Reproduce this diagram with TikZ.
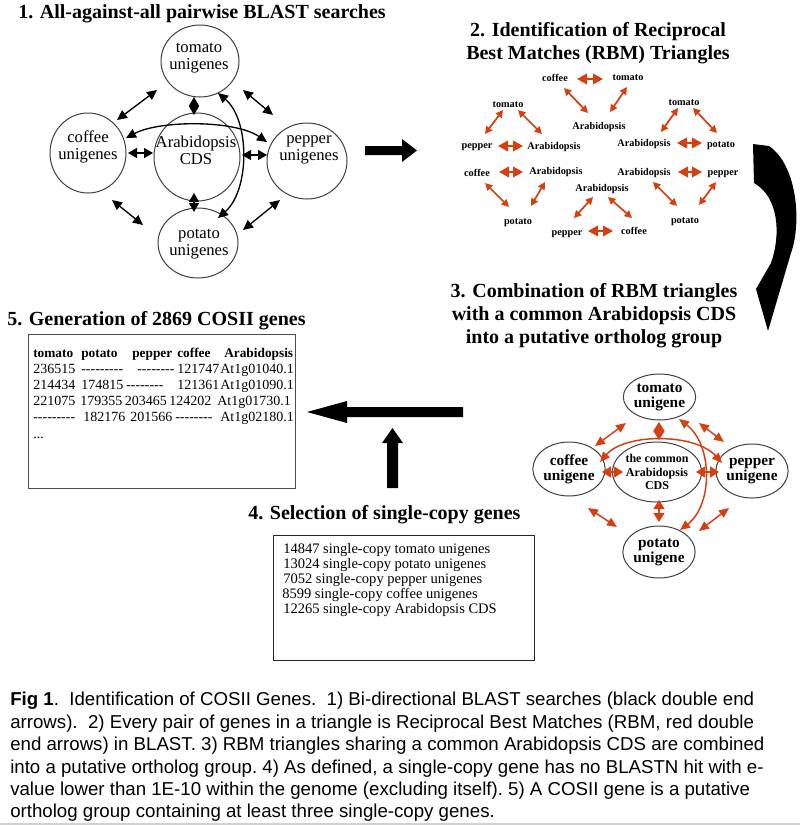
\documentclass[tikz,border=0pt]{standalone}
\usepackage{fontspec}
\setmainfont{Liberation Serif}
\newfontfamily\capfont{Liberation Sans}
\usetikzlibrary{shapes.geometric,arrows.meta,calc}
\definecolor{rbm}{RGB}{214,64,16}
\newcommand\dsh[1]{\foreach\i in {1,...,#1}{-\kern0pt}}
\begin{document}
\begin{tikzpicture}[x=0.75pt,y=-0.75pt,
  ell/.style={ellipse,draw=black!75,line width=0.75pt,inner sep=0pt},
  ttl/.style={font=\fontsize{15}{17.25}\selectfont\bfseries,inner sep=0pt},
  ctxt/.style={font=\fontsize{12.5}{12.75}\selectfont,align=center,inner sep=0pt},
  gtxt/.style={font=\fontsize{11.5}{11.25}\selectfont\bfseries,align=center},
  tri/.style={font=\fontsize{7.7}{8}\selectfont\bfseries,inner sep=0pt,anchor=base},
  bdbl/.style={line width=1pt,{Triangle[length=7.5pt,width=7pt]}-{Triangle[length=7.5pt,width=7pt]}},
  bdia/.style={line width=1pt,{Triangle[length=6.75pt,width=7.5pt]}-{Triangle[length=6.75pt,width=7.5pt]}},
  rdbl/.style={rbm,line width=1.3pt,{Triangle[length=5.5pt,width=5.5pt]}-{Triangle[length=5.5pt,width=5.5pt]}},
  rhor/.style={rbm,line width=1.3pt,{Triangle[length=7.5pt,width=8pt]}-{Triangle[length=7.5pt,width=8pt]}},
  gdbl/.style={rbm,line width=1.1pt,{Triangle[length=7.5pt,width=6.5pt]}-{Triangle[length=7.5pt,width=6.5pt]}},
  gdia/.style={rbm,line width=1.1pt,{Triangle[length=6.75pt,width=8.25pt]}-{Triangle[length=6.75pt,width=8.25pt]}},
  cell/.style={anchor=base west,inner sep=0pt,font=\fontsize{10.5}{12}\selectfont},
  hcell/.style={anchor=base west,inner sep=0pt,font=\fontsize{10}{12}\selectfont\bfseries},
  sel/.style={anchor=base west,inner sep=0pt,font=\fontsize{10.9}{12}\selectfont}
]
\useasboundingbox (0,0) rectangle (800,826);
\fill[white] (0,0) rectangle (800,826);

% ---------- Panel 1 ----------
\node[ttl,anchor=base west] (t1) at (18,18) {1. All-against-all pairwise BLAST searches};
\node[ell,minimum width=58.5pt,minimum height=54pt] (tom) at (200,61) {};
\node[ell,minimum width=57pt,minimum height=60pt] (cof) at (88,153) {};
\node[ell,minimum width=64.5pt,minimum height=66pt] (ara) at (197,157) {};
\node[ell,minimum width=60pt,minimum height=57pt] (pep) at (307,161) {};
\node[ell,minimum width=60pt,minimum height=52.5pt] (pot) at (198,243) {};
\node[ctxt] (tomT) at (199,58) {tomato\\unigenes};
\node[ctxt] (cofT) at (88,147) {coffee\\unigenes};
\node[ctxt] (araT) at (196,150) {Arabidopsis\\CDS};
\node[ctxt] (pepT) at (309,150) {pepper\\unigenes};
\node[ctxt] (potT) at (199,244) {potato\\unigenes};

\draw[bdbl] ([shift={(-43,29)}]tom.center) -- ([shift={(29,-33)}]cof.center);
\draw[bdbl] ([shift={(43,29)}]tom.center) -- ([shift={(-34,-46)}]pep.center);
\draw[bdbl] ([shift={(24,47)}]cof.center) -- ([shift={(-55,-18)}]pot.center);
\draw[bdbl] ([shift={(-27,39)}]pep.center) -- ([shift={(45,-13)}]pot.center);
\draw[bdia] ([shift={(-6,36)}]tom.center) -- ([shift={(-3,-42)}]ara.center);
\draw[bdia] ([shift={(-3,36)}]ara.center) -- ([shift={(-4,-31)}]pot.center);
\draw[bdia] ([shift={(40,0)}]cof.center) -- ([shift={(-44,-4)}]ara.center);
\draw[bdia] ([shift={(45,-2)}]ara.center) -- ([shift={(-40,-6)}]pep.center);
\draw[bdbl] ([shift={(38,-15)}]cof.center) .. controls (160,120) and (235,120) .. ([shift={(-40,-19)}]pep.center);
\draw[bdbl] ([shift={(18,32)}]tom.center) .. controls (250,120) and (250,190) .. ([shift={(20,-25)}]pot.center);

% arrow 1 -> 2
\fill (365,146) -- (402,146) -- (402,139) -- (417,150.5) -- (402,162) -- (402,155) -- (365,155) -- cycle;

% ---------- Panel 2 ----------
\node[ttl,align=center] (t2) at (598,43) {2. Identification of Reciprocal\\Best Matches (RBM) Triangles};

\node[tri] (Acof) at (555,81) {coffee};
\node[tri] (Atom) at (628,80) {tomato};
\node[tri] (Aara) at (599,129) {Arabidopsis};
\draw[rhor] ([shift={(22,-2)}]Acof.base) -- ([shift={(-25,-1)}]Atom.base);
\draw[rdbl] ([shift={(9,7)}]Acof.base) -- ([shift={(-11,-16)}]Aara.base);
\draw[rdbl] ([shift={(-1,7)}]Atom.base) -- ([shift={(11,-17)}]Aara.base);

\node[tri] (Btom) at (508,107) {tomato};
\node[tri] (Bpep) at (477,148) {pepper};
\node[tri] (Bara) at (554,149) {Arabidopsis};
\draw[rhor] ([shift={(21,-2)}]Bpep.base) -- ([shift={(-31,-3)}]Bara.base);
\draw[rdbl] ([shift={(-5,3)}]Btom.base) -- ([shift={(8,-14)}]Bpep.base);
\draw[rdbl] ([shift={(10,3)}]Btom.base) -- ([shift={(-12,-15)}]Bara.base);

\node[tri] (Ctom) at (684,105) {tomato};
\node[tri] (Cara) at (644,146) {Arabidopsis};
\node[tri] (Cpot) at (721,147) {potato};
\draw[rhor] ([shift={(33,-3)}]Cara.base) -- ([shift={(-19,-4)}]Cpot.base);
\draw[rdbl] ([shift={(-6,3)}]Ctom.base) -- ([shift={(17,-14)}]Cara.base);
\draw[rdbl] ([shift={(9,3)}]Ctom.base) -- ([shift={(-4,-14)}]Cpot.base);

\node[tri] (Dcof) at (477,176) {coffee};
\node[tri] (Dara) at (556,174) {Arabidopsis};
\node[tri] (Dpot) at (518,224) {potato};
\draw[rhor] ([shift={(22,-4)}]Dcof.base) -- ([shift={(-33,-2)}]Dara.base);
\draw[rdbl] ([shift={(8,7)}]Dcof.base) -- ([shift={(-9,-17)}]Dpot.base);
\draw[rdbl] ([shift={(-11,8)}]Dara.base) -- ([shift={(13,-18)}]Dpot.base);

\node[tri] (Eara) at (602,191) {Arabidopsis};
\node[tri] (Epep) at (567,235) {pepper};
\node[tri] (Ecof) at (634,234) {coffee};
\draw[rhor] ([shift={(21,-4)}]Epep.base) -- ([shift={(-21,-3)}]Ecof.base);
\draw[rdbl] ([shift={(-9,6)}]Eara.base) -- ([shift={(7,-17)}]Epep.base);
\draw[rdbl] ([shift={(6,6)}]Eara.base) -- ([shift={(-2,-16)}]Ecof.base);

\node[tri] (Fara) at (644,175) {Arabidopsis};
\node[tri] (Fpep) at (723,175) {pepper};
\node[tri] (Fpot) at (685,223) {potato};
\draw[rhor] ([shift={(34,-3)}]Fara.base) -- ([shift={(-21,-3)}]Fpep.base);
\draw[rdbl] ([shift={(9,7)}]Fara.base) -- ([shift={(-8,-17)}]Fpot.base);
\draw[rdbl] ([shift={(-7,7)}]Fpep.base) -- ([shift={(14,-18)}]Fpot.base);

% curved arrow 2 -> 3
\fill (753,144) -- (769,146) .. controls (797,165) and (802,222) .. (791,253) -- (768,331) -- (756,289) -- (771,263) .. controls (781,235) and (779,197) .. (754,183) -- cycle;

% ---------- Panel 3 ----------
\node[ttl,align=center] (t3) at (594,316) {3. Combination of RBM triangles\\with a common Arabidopsis CDS\\into a putative ortholog group};

\node[ell,gtxt,inner sep=0pt,minimum width=50.25pt,minimum height=34.5pt] (gtom) at (659.5,397) {tomato\\unigene};
\node[ell,gtxt,inner sep=0pt,minimum width=48pt,minimum height=40.5pt] (gcof) at (569,469) {coffee\\unigene};
\node[ell,align=center,inner sep=0pt,font=\fontsize{9}{10}\selectfont\bfseries,minimum width=49.5pt,minimum height=45pt] (gcen) at (657,472) {the common\\Arabidopsis\\CDS};
\node[ell,gtxt,inner sep=0pt,minimum width=49.5pt,minimum height=40.5pt] (gpep) at (752,471) {pepper\\unigene};
\node[ell,gtxt,inner sep=0pt,minimum width=49.5pt,minimum height=39pt] (gpot) at (659,552) {potato\\unigene};

\draw[gdbl] ([shift={(26,-23)}]gcof.center) -- ([shift={(-33.5,26)}]gtom.center);
\draw[gdbl] ([shift={(39.5,26)}]gtom.center) -- ([shift={(-28,-29)}]gpep.center);
\draw[gdbl] ([shift={(19,39)}]gcof.center) -- ([shift={(-42,-25)}]gpot.center);
\draw[gdbl] ([shift={(-23,37)}]gpep.center) -- ([shift={(40,-21)}]gpot.center);
\draw[gdia] ([shift={(-0.5,25)}]gtom.center) -- ([shift={(2,-32)}]gcen.center);
\draw[gdia] ([shift={(2,28)}]gcen.center) -- ([shift={(0,-30)}]gpot.center);
\draw[gdia] ([shift={(33,3)}]gcof.center) -- ([shift={(-34,0)}]gcen.center);
\draw[gdia] ([shift={(39,0)}]gcen.center) -- ([shift={(-33,1)}]gpep.center);
\draw[gdbl] ([shift={(31,-7)}]gcof.center) .. controls (625,433) and (695,433) .. ([shift={(-30,-8)}]gpep.center);
\draw[gdbl] ([shift={(19.5,22)}]gtom.center) .. controls (713,445) and (713,505) .. ([shift={(21,-22)}]gpot.center);

% arrows 3/4 -> 5
\fill (463,407) -- (347,407) -- (347,401) -- (307,412) -- (347,423) -- (347,417) -- (463,417) -- cycle;
\fill (387,488) -- (387,443) -- (382,443) -- (392.5,428) -- (403,443) -- (398,443) -- (398,488) -- cycle;

% ---------- Panel 5 ----------
\node[ttl,anchor=base west] (t5) at (7,325) {5. Generation of 2869 COSII genes};
\node[draw=black!70,line width=1pt,anchor=north west,inner sep=0pt,minimum width=200.25pt,minimum height=115.5pt] (tab) at (28,334) {};
\node[hcell] (h1) at (33,357) {tomato};
\node[hcell] (h2) at (81,357) {potato};
\node[hcell] (h3) at (132,357) {pepper};
\node[hcell] (h4) at (177,357) {coffee};
\node[hcell] (h5) at (224,357) {Arabidopsis};
\node[cell] (r11) at (33,373) {236515};
\node[cell] (r12) at (81,373) {\dsh{9}};
\node[cell] (r13) at (137,373) {\dsh{8}};
\node[cell] (r14) at (177,373) {121747};
\node[cell] (r15) at (220,373) {At1g01040.1};
\node[cell] (r21) at (33,389) {214434};
\node[cell] (r22) at (81,389) {174815};
\node[cell] (r23) at (126,389) {\dsh{8}};
\node[cell] (r24) at (177,389) {121361};
\node[cell] (r25) at (220,389) {At1g01090.1};
\node[cell] (r31) at (33,405) {221075};
\node[cell] (r32) at (80,405) {179355};
\node[cell] (r33) at (124.5,405) {203465};
\node[cell] (r34) at (169,405) {124202};
\node[cell] (r35) at (217,405) {At1g01730.1};
\node[cell] (r41) at (33,421) {\dsh{9}};
\node[cell] (r42) at (83,421) {182176};
\node[cell] (r43) at (130,421) {201566};
\node[cell] (r44) at (175,421) {\dsh{8}};
\node[cell] (r45) at (220,421) {At1g02180.1};
\node[cell] (r51) at (33,438) {...};

% ---------- Panel 4 ----------
\node[ttl,anchor=base west] (t4) at (248,519) {4. Selection of single-copy genes};
\node[draw=black!85,line width=0.8pt,anchor=north west,inner sep=0pt,minimum width=195.75pt,minimum height=93.75pt] (selbox) at (273,535) {};
\node[sel] (s1) at (283,553) {14847 single-copy tomato unigenes};
\node[sel] (s2) at (283,568) {13024 single-copy potato unigenes};
\node[sel] (s3) at (283,583) {7052 single-copy pepper unigenes};
\node[sel] (s4) at (282,598) {8599 single-copy coffee unigenes};
\node[sel] (s5) at (283,613) {12265 single-copy Arabidopsis CDS};

% ---------- Caption ----------
\node[anchor=north west,align=left,inner sep=0pt,font=\capfont\fontsize{14}{16.8}\selectfont\frenchspacing] (cap) at (10,692)
{\textbf{Fig 1}.\ \ Identification of COSII Genes.\ \ 1) Bi-directional BLAST searches (black double end\\
arrows).\ \ 2) Every pair of genes in a triangle is Reciprocal Best Matches (RBM, red double\\
end arrows) in BLAST. 3) RBM triangles sharing a common Arabidopsis CDS are combined\\
into a putative ortholog group. 4) As defined, a single-copy gene has no BLASTN hit with e-\\
value lower than 1E-10 within the genome (excluding itself). 5) A COSII gene is a putative\\
ortholog group containing at least three single-copy genes.};

\fill[black!18] (0,822.5) rectangle (800,825);
\end{tikzpicture}
\end{document}
